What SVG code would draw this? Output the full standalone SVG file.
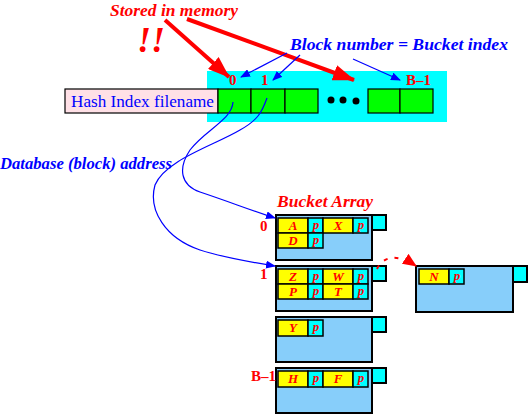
<svg xmlns="http://www.w3.org/2000/svg" width="529" height="414" viewBox="0 0 529 414">
<style>
.red{fill:#ff0000;font-family:"Liberation Serif",serif;font-weight:bold;font-style:italic}
.blue{fill:#0000ff;font-family:"Liberation Serif",serif;font-weight:bold;font-style:italic}
.num{fill:#ff0000;font-family:"Liberation Serif",serif;font-weight:bold;font-size:15px}
.cell{fill:#ffff00;stroke:#000;stroke-width:1.5}
.pc{fill:#00ffff;stroke:#000;stroke-width:1.5}
.bk{fill:#87cefa;stroke:#000;stroke-width:2}
.tab{fill:#00ffff;stroke:#000;stroke-width:2}
.g{fill:#00ff00;stroke:#000;stroke-width:1.2}
.lt{fill:#ff0000;font-family:"Liberation Serif",serif;font-weight:bold;font-style:italic;font-size:13px;text-anchor:middle}
.pt{fill:#ff0000;font-family:"Liberation Serif",serif;font-weight:bold;font-style:italic;font-size:13px;text-anchor:middle}
.bl{fill:none;stroke:#0000ff;stroke-width:1.2}
</style>
<defs>
<marker id="ab" markerWidth="10" markerHeight="8" refX="9" refY="4" orient="auto" markerUnits="userSpaceOnUse">
<path d="M0,0 L10,4 L0,8 Z" fill="#0000ff"/>
</marker>
<marker id="ar" markerWidth="22" markerHeight="16" refX="21" refY="8" orient="auto" markerUnits="userSpaceOnUse">
<path d="M0,0 L22,8 L0,16 Z" fill="#ff0000"/>
</marker>
<marker id="ar2" markerWidth="14" markerHeight="12" refX="13" refY="6" orient="auto" markerUnits="userSpaceOnUse">
<path d="M0,0 L14,6 L0,12 Z" fill="#ff0000"/>
</marker>
</defs>

<g id="index">
<rect x="207" y="71" width="240" height="51" fill="#00ffff"/>
<rect x="65" y="89" width="153" height="24" fill="#ffe0e6" stroke="#000" stroke-width="1.2"/>
<text x="71" y="107" font-family="Liberation Serif,serif" font-size="17" fill="#0000ff" textLength="143" lengthAdjust="spacingAndGlyphs">Hash Index filename</text>
<rect class="g" x="218" y="89" width="33" height="24"/>
<rect class="g" x="251" y="89" width="34" height="24"/>
<rect class="g" x="285" y="89" width="33" height="24"/>
<rect class="g" x="368" y="89" width="32" height="24"/>
<rect class="g" x="400" y="89" width="33" height="24"/>
<circle cx="331" cy="100" r="3.5" fill="#000"/>
<circle cx="343" cy="100" r="3.5" fill="#000"/>
<circle cx="356" cy="101" r="3.5" fill="#000"/>
<text class="num" x="229" y="85">0</text>
<text class="num" x="261" y="85">1</text>
<text class="num" x="406" y="85">B–1</text>
</g>

<g id="labels">
<text class="red" x="110" y="16" font-size="17" textLength="128" lengthAdjust="spacingAndGlyphs">Stored in memory</text>
<text class="red" x="137" y="52" font-size="36">!!</text>
<text class="blue" x="290" y="50" font-size="17" textLength="218" lengthAdjust="spacingAndGlyphs">Block number = Bucket index</text>
<text class="blue" x="0" y="169" font-size="16" textLength="172" lengthAdjust="spacingAndGlyphs">Database (block) address</text>
<text class="red" x="277" y="207" font-size="17" textLength="96" lengthAdjust="spacingAndGlyphs">Bucket Array</text>
</g>

<g id="bucket0">
<rect class="bk" x="276" y="215" width="96" height="45"/>
<rect class="tab" x="372" y="215" width="14" height="15"/>
<rect class="cell" x="278" y="218" width="30" height="15"/>
<rect class="pc" x="308" y="218" width="15" height="15"/>
<rect class="cell" x="323" y="218" width="30" height="15"/>
<rect class="pc" x="353" y="218" width="15" height="15"/>
<rect class="cell" x="278" y="233" width="30" height="15"/>
<rect class="pc" x="308" y="233" width="15" height="15"/>
<text class="lt" x="293" y="230">A</text><text class="pt" x="316" y="229">p</text>
<text class="lt" x="338" y="230">X</text><text class="pt" x="361" y="229">p</text>
<text class="lt" x="293" y="245">D</text><text class="pt" x="316" y="244">p</text>
<text class="num" x="260" y="231">0</text>
</g>

<g id="bucket1">
<rect class="bk" x="276" y="266" width="96" height="45"/>
<rect class="tab" x="372" y="266" width="14" height="15"/>
<rect class="cell" x="278" y="269" width="30" height="15"/>
<rect class="pc" x="308" y="269" width="15" height="15"/>
<rect class="cell" x="323" y="269" width="30" height="15"/>
<rect class="pc" x="353" y="269" width="15" height="15"/>
<rect class="cell" x="278" y="284" width="30" height="15"/>
<rect class="pc" x="308" y="284" width="15" height="15"/>
<rect class="cell" x="323" y="284" width="30" height="15"/>
<rect class="pc" x="353" y="284" width="15" height="15"/>
<text class="lt" x="293" y="281">Z</text><text class="pt" x="316" y="280">p</text>
<text class="lt" x="338" y="281">W</text><text class="pt" x="361" y="280">p</text>
<text class="lt" x="293" y="296">P</text><text class="pt" x="316" y="295">p</text>
<text class="lt" x="338" y="296">T</text><text class="pt" x="361" y="295">p</text>
<text class="num" x="260" y="279">1</text>
</g>

<g id="bucket2">
<rect class="bk" x="276" y="317" width="96" height="45"/>
<rect class="tab" x="372" y="317" width="14" height="15"/>
<rect class="cell" x="278" y="320" width="30" height="16"/>
<rect class="pc" x="308" y="320" width="15" height="16"/>
<text class="lt" x="293" y="332">Y</text><text class="pt" x="316" y="331">p</text>
</g>

<g id="bucketB1">
<rect class="bk" x="276" y="368" width="96" height="45"/>
<rect class="tab" x="372" y="368" width="14" height="15"/>
<rect class="cell" x="278" y="371" width="30" height="16"/>
<rect class="pc" x="308" y="371" width="15" height="16"/>
<rect class="cell" x="323" y="371" width="30" height="16"/>
<rect class="pc" x="353" y="371" width="15" height="16"/>
<text class="lt" x="293" y="383">H</text><text class="pt" x="316" y="382">p</text>
<text class="lt" x="338" y="383">F</text><text class="pt" x="361" y="382">p</text>
<text class="num" x="251" y="381">B–1</text>
</g>

<g id="overflow">
<rect class="bk" x="416" y="266" width="97" height="46"/>
<rect class="tab" x="513" y="266" width="14" height="16"/>
<rect class="cell" x="419" y="269" width="30" height="15"/>
<rect class="pc" x="449" y="269" width="15" height="15"/>
<text class="lt" x="434" y="281">N</text><text class="pt" x="457" y="280">p</text>
</g>

<g id="connectors">
<line x1="165" y1="20" x2="229" y2="77" stroke="#ff0000" stroke-width="4" marker-end="url(#ar)"/>
<line x1="187" y1="19" x2="354" y2="80" stroke="#ff0000" stroke-width="4" marker-end="url(#ar)"/>
<line class="bl" x1="287" y1="53" x2="241" y2="77" marker-end="url(#ab)"/>
<line class="bl" x1="300" y1="55" x2="273" y2="80" marker-end="url(#ab)"/>
<line class="bl" x1="353" y1="59" x2="400" y2="80" marker-end="url(#ab)"/>
<path class="bl" d="M233,102 C232,120 205,130 190,150 C178,168 180,185 200,192 C230,202 250,210 275,218" marker-end="url(#ab)"/>
<path class="bl" d="M267,98 C262,112 258,120 240,130 C215,145 165,160 155,185 C148,210 165,238 200,250 C225,258 250,262 275,266" marker-end="url(#ab)"/>
<path d="M377,269 C382,258 395,252 416,266" fill="none" stroke="#ff0000" stroke-width="2" stroke-dasharray="4,7" marker-end="url(#ar2)"/>
</g>
</svg>
